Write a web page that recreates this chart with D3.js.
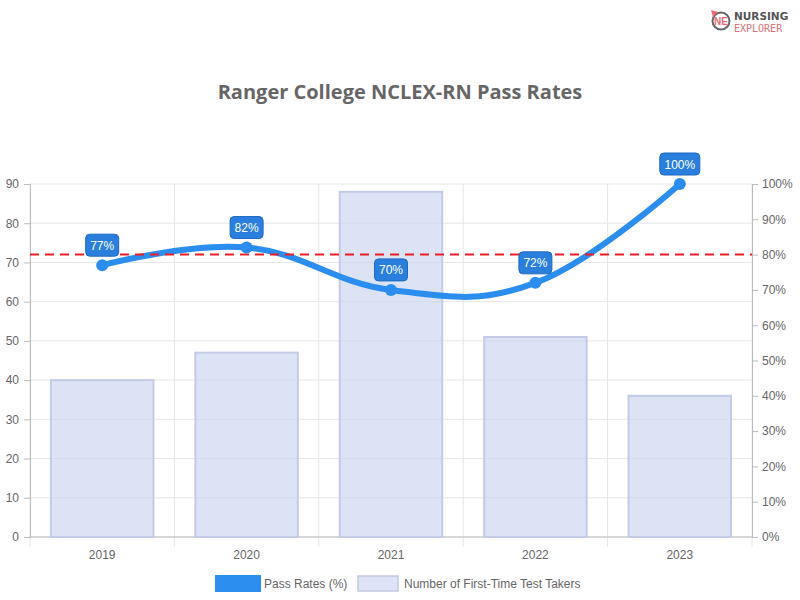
<!DOCTYPE html>
<html>
<head>
<meta charset="utf-8">
<script src="https://cdn.jsdelivr.net/npm/d3@7"></script>
<style>
  body { margin: 0; background: #fff; }
  svg text { font-family: "Liberation Sans", Arial, sans-serif; }
</style>
</head>
<body>
<div id="chart"></div>
<script>
// pass rates vs number of test takers
const years = ["2019", "2020", "2021", "2022", "2023"];
const takers = [40, 47, 88, 51, 36];
const passRates = [77, 82, 70, 72, 100];
const benchmark = 80; // dashed line, % on right axis
const leftTicks = [0, 10, 20, 30, 40, 50, 60, 70, 80, 90];
const rightTicks = [0, 10, 20, 30, 40, 50, 60, 70, 80, 90, 100];

const width = 800, height = 600;
const m = { top: 184, right: 48, bottom: 63, left: 30 };
const iw = width - m.left - m.right;
const ih = height - m.top - m.bottom;

const svg = d3.select("#chart").append("svg")
    .attr("width", width)
    .attr("height", height);

let x = d3.scaleBand().domain(years).range([0, iw]);
let y = d3.scaleLinear().domain([0, 90]).range([ih, 0]);
let y2 = d3.scaleLinear().domain([0, 100]).range([ih, 0]);

// title
svg.append("text")
    .attr("x", width / 2).attr("y", 99)
    .attr("text-anchor", "middle")
    .style("font-family", "'Open Sans', sans-serif")
    .style("font-weight", "bold")
    .style("font-size", "20px")
    .attr("fill", "#666")
    .text("Ranger College NCLEX-RN Pass Rates");

// logo
let logo = svg.append("g").attr("transform", "translate(721,21)");
logo.append("circle").attr("r", 8.5).attr("fill", "none").attr("stroke", "#666").attr("stroke-width", 2);
logo.append("path").attr("d", "M-10,-11 L-3,-9 L-8,-4 Z").attr("fill", "#e86a74");
logo.append("text").attr("x", 0).attr("y", 4).attr("text-anchor", "middle")
    .style("font-size", "10px").style("font-weight", "bold").attr("fill", "#e86a74").text("NE");
logo.append("text").attr("x", 13).attr("y", -1)
    .style("font-family", "'DejaVu Sans', sans-serif")
    .style("font-size", "10.5px").style("font-weight", "bold").attr("fill", "#555").text("NURSING");
logo.append("text").attr("x", 13).attr("y", 11)
    .style("font-family", "'DejaVu Sans Mono', monospace")
    .style("font-size", "10px").attr("fill", "#e0707a").text("EXPLORER");

const g = svg.append("g").attr("transform", "translate(" + m.left + "," + m.top + ")");

// horizontal grid
g.append("g").selectAll("line")
    .data(leftTicks)
    .join("line")
    .attr("x1", 0).attr("x2", iw)
    .attr("y1", d => y(d)).attr("y2", d => y(d))
    .attr("stroke", "#e6e6e6");

// vertical grid at category edges
const edges = years.map(d => x(d)).concat([iw]);
g.append("g").selectAll("line")
    .data(edges)
    .join("line")
    .attr("x1", d => d).attr("x2", d => d)
    .attr("y1", 0).attr("y2", ih + 10)
    .attr("stroke", "#e6e6e6");

// left axis
let yAxis = g.append("g")
    .call(d3.axisLeft(y).tickValues(leftTicks).tickSize(6).tickPadding(5));
yAxis.select(".domain").attr("stroke", "#bbb");
yAxis.selectAll(".tick line").attr("stroke", "#bbb");
yAxis.selectAll("text").attr("fill", "#666").style("font-size", "12px");

// right axis
let y2Axis = g.append("g")
    .attr("transform", "translate(" + iw + ",0)")
    .call(d3.axisRight(y2).tickValues(rightTicks).tickSize(6).tickPadding(4).tickFormat(d => d + "%"));
y2Axis.select(".domain").attr("stroke", "#bbb");
y2Axis.selectAll(".tick line").attr("stroke", "#bbb");
y2Axis.selectAll("text").attr("fill", "#666").style("font-size", "12px");

// bottom axis labels
g.append("line").attr("x1", 0).attr("x2", iw).attr("y1", ih).attr("y2", ih).attr("stroke", "#bbb");
g.append("g").selectAll("text")
    .data(years)
    .join("text")
    .attr("x", d => x(d) + x.bandwidth() / 2)
    .attr("y", ih + 22)
    .attr("text-anchor", "middle")
    .attr("fill", "#666")
    .style("font-size", "12px")
    .text(d => d);

// bars
const barW = x.bandwidth() * 0.71;
g.append("g").selectAll("rect")
    .data(takers)
    .join("rect")
    .attr("x", (d, i) => x(years[i]) + (x.bandwidth() - barW) / 2)
    .attr("y", d => y(d))
    .attr("width", barW)
    .attr("height", d => ih - y(d))
    .attr("fill", "#c8d4f0")
    .attr("fill-opacity", 0.65)
    .attr("stroke", "#c3cbe6")
    .attr("stroke-width", 2);

// pass rate line
const pts = passRates.map((v, i) => [x(years[i]) + x.bandwidth() / 2, y2(v)]);
g.append("path")
    .datum(pts)
    .attr("fill", "none")
    .attr("stroke", "#2b8eef")
    .attr("stroke-width", 6)
    .attr("stroke-linecap", "round")
    .attr("d", d3.line().curve(d3.curveCardinal.tension(-0.2)));

// benchmark dashed line
g.append("line")
    .attr("x1", 0).attr("x2", iw)
    .attr("y1", y2(benchmark)).attr("y2", y2(benchmark))
    .attr("stroke", "#ee1c25")
    .attr("stroke-width", 2)
    .attr("stroke-dasharray", "9,6");

// points
g.append("g").selectAll("circle")
    .data(pts)
    .join("circle")
    .attr("cx", d => d[0]).attr("cy", d => d[1])
    .attr("r", 6)
    .attr("fill", "#2b8eef");

// value labels
let labels = g.append("g").selectAll("g")
    .data(passRates)
    .join("g")
    .attr("transform", (d, i) => "translate(" + pts[i][0] + "," + (pts[i][1] - 20) + ")");
labels.append("rect")
    .attr("x", d => d === 100 ? -20 : -16.5)
    .attr("y", -11)
    .attr("width", d => d === 100 ? 40 : 33)
    .attr("height", 22)
    .attr("rx", 4)
    .attr("fill", "#2a7fdc")
    .attr("stroke", "#1f68c0")
    .attr("stroke-width", 1);
labels.append("text")
    .attr("text-anchor", "middle")
    .attr("y", 4.5)
    .attr("fill", "#fff")
    .style("font-size", "12px")
    .text(d => d + "%");

// legend
let leg = svg.append("g").attr("transform", "translate(215,575)");
leg.append("rect").attr("width", 46).attr("height", 17).attr("fill", "#2b8eef");
leg.append("text").attr("x", 49).attr("y", 13).attr("fill", "#666").style("font-size", "12px").text("Pass Rates (%)");
leg.append("rect").attr("x", 143).attr("y", 1).attr("width", 40).attr("height", 15)
    .attr("fill", "#dfe3f8").attr("stroke", "#c4c8dc").attr("stroke-width", 1.5);
leg.append("text").attr("x", 189).attr("y", 13).attr("fill", "#666").style("font-size", "12px").text("Number of First-Time Test Takers");
</script>
</body>
</html>
